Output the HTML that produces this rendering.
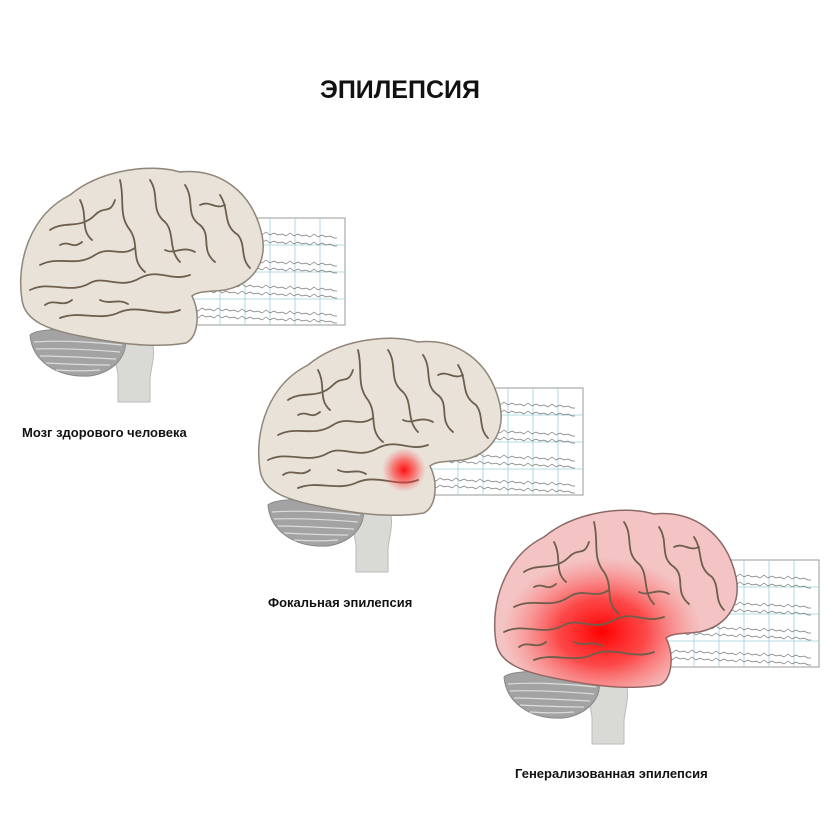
<!DOCTYPE html>
<html><head><meta charset="utf-8"><style>
html,body{margin:0;padding:0;background:#fff;}
svg{display:block}
text{font-family:"Liberation Sans",sans-serif;font-weight:bold;fill:#111}
</style></head><body>
<svg width="840" height="840" viewBox="0 0 840 840" xmlns="http://www.w3.org/2000/svg">
<defs>
<radialGradient id="focal" cx="0.5" cy="0.5" r="0.5">
<stop offset="0" stop-color="#ff1010" stop-opacity="1"/>
<stop offset="0.5" stop-color="#ff3030" stop-opacity="0.6"/>
<stop offset="1" stop-color="#ff5050" stop-opacity="0"/>
</radialGradient>
<radialGradient id="gen" cx="0.5" cy="0.5" r="0.5">
<stop offset="0" stop-color="#ff0000" stop-opacity="1"/>
<stop offset="0.45" stop-color="#ff2020" stop-opacity="0.75"/>
<stop offset="1" stop-color="#ff6060" stop-opacity="0"/>
</radialGradient>
<g id="eeg">
<rect x="190" y="218" width="155" height="107" fill="#fff" stroke="#999" stroke-width="1"/>
<g stroke="#9cd0dc" stroke-width="0.8">
<line x1="220" y1="218" x2="220" y2="325"/><line x1="245" y1="218" x2="245" y2="325"/>
<line x1="270" y1="218" x2="270" y2="325"/><line x1="295" y1="218" x2="295" y2="325"/>
<line x1="320" y1="218" x2="320" y2="325"/>
<line x1="190" y1="245" x2="345" y2="245"/><line x1="190" y1="272" x2="345" y2="272"/><line x1="190" y1="299" x2="345" y2="299"/>
</g>
<g stroke="#777" stroke-width="0.7" fill="none">
<path d="M190,232 l4,-2 l4,3 l4,-3 l4,2 l4,-1 l4,2 l4,-3 l4,3 l4,-2 l4,2 l4,-1 l4,2 l4,-3 l4,3 l4,-2 l4,2 l4,-1 l4,2 l4,-3 l4,3 l4,-2 l4,2 l4,-1 l4,2 l4,-3 l4,3 l4,-2 l4,2 l4,-1 l4,2 l4,-3 l4,3 l4,-2 l4,2 l4,-1 l4,2 l3,0"/>
<path d="M190,240 l4,-2 l4,3 l4,-3 l4,2 l4,-1 l4,2 l4,-3 l4,3 l4,-2 l4,2 l4,-1 l4,2 l4,-3 l4,3 l4,-2 l4,2 l4,-1 l4,2 l4,-3 l4,3 l4,-2 l4,2 l4,-1 l4,2 l4,-3 l4,3 l4,-2 l4,2 l4,-1 l4,2 l4,-3 l4,3 l4,-2 l4,2 l4,-1 l4,2 l3,0"/>
<path d="M190,260 l4,-2 l4,3 l4,-3 l4,2 l4,-1 l4,2 l4,-3 l4,3 l4,-2 l4,2 l4,-1 l4,2 l4,-3 l4,3 l4,-2 l4,2 l4,-1 l4,2 l4,-3 l4,3 l4,-2 l4,2 l4,-1 l4,2 l4,-3 l4,3 l4,-2 l4,2 l4,-1 l4,2 l4,-3 l4,3 l4,-2 l4,2 l4,-1 l4,2 l3,0"/>
<path d="M190,267 l4,-2 l4,3 l4,-3 l4,2 l4,-1 l4,2 l4,-3 l4,3 l4,-2 l4,2 l4,-1 l4,2 l4,-3 l4,3 l4,-2 l4,2 l4,-1 l4,2 l4,-3 l4,3 l4,-2 l4,2 l4,-1 l4,2 l4,-3 l4,3 l4,-2 l4,2 l4,-1 l4,2 l4,-3 l4,3 l4,-2 l4,2 l4,-1 l4,2 l3,0"/>
<path d="M190,285 l4,-2 l4,3 l4,-3 l4,2 l4,-1 l4,2 l4,-3 l4,3 l4,-2 l4,2 l4,-1 l4,2 l4,-3 l4,3 l4,-2 l4,2 l4,-1 l4,2 l4,-3 l4,3 l4,-2 l4,2 l4,-1 l4,2 l4,-3 l4,3 l4,-2 l4,2 l4,-1 l4,2 l4,-3 l4,3 l4,-2 l4,2 l4,-1 l4,2 l3,0"/>
<path d="M190,292 l4,-2 l4,3 l4,-3 l4,2 l4,-1 l4,2 l4,-3 l4,3 l4,-2 l4,2 l4,-1 l4,2 l4,-3 l4,3 l4,-2 l4,2 l4,-1 l4,2 l4,-3 l4,3 l4,-2 l4,2 l4,-1 l4,2 l4,-3 l4,3 l4,-2 l4,2 l4,-1 l4,2 l4,-3 l4,3 l4,-2 l4,2 l4,-1 l4,2 l3,0"/>
<path d="M190,310 l4,-2 l4,3 l4,-3 l4,2 l4,-1 l4,2 l4,-3 l4,3 l4,-2 l4,2 l4,-1 l4,2 l4,-3 l4,3 l4,-2 l4,2 l4,-1 l4,2 l4,-3 l4,3 l4,-2 l4,2 l4,-1 l4,2 l4,-3 l4,3 l4,-2 l4,2 l4,-1 l4,2 l4,-3 l4,3 l4,-2 l4,2 l4,-1 l4,2 l3,0"/>
<path d="M190,317 l4,-2 l4,3 l4,-3 l4,2 l4,-1 l4,2 l4,-3 l4,3 l4,-2 l4,2 l4,-1 l4,2 l4,-3 l4,3 l4,-2 l4,2 l4,-1 l4,2 l4,-3 l4,3 l4,-2 l4,2 l4,-1 l4,2 l4,-3 l4,3 l4,-2 l4,2 l4,-1 l4,2 l4,-3 l4,3 l4,-2 l4,2 l4,-1 l4,2 l3,0"/>
</g>
</g>
<g id="under">
<path d="M112,340 L150,338 C158,350 150,370 150,380 L150,402 L118,402 L118,375 Z" fill="#d9d9d6" stroke="#bbb" stroke-width="1"/>
<path d="M30,335 C40,325 110,330 125,338 C128,355 115,372 90,376 C55,378 32,360 30,335 Z" fill="#a3a3a3" stroke="#888" stroke-width="1"/>
<g stroke="#dcdcdc" stroke-width="1.2" fill="none">
<path d="M34,342 C60,340 95,342 122,345"/><path d="M36,349 C60,348 95,350 120,352"/>
<path d="M40,356 C62,356 95,358 116,359"/><path d="M46,363 C66,364 92,365 110,365"/>
<path d="M56,370 C70,371 88,371 100,370"/>
</g>
</g>
<path id="outline" d="M22,300 C16,262 30,215 70,195 C100,170 150,163 180,172 C218,168 252,190 262,235 C268,265 250,285 225,290 C208,292 198,291 192,296 C200,312 199,336 186,343 C150,349 110,342 80,336 C50,330 25,322 22,300 Z"/>
<g id="gyri" fill="none" stroke="#6e5e4c" stroke-width="1.8" stroke-linecap="round">
<path d="M50,230 C65,220 80,230 95,215 C105,205 110,215 115,200"/>
<path d="M40,265 C60,255 75,268 95,255 C110,245 120,258 135,248"/>
<path d="M30,290 C50,280 70,295 90,283 C105,275 120,290 140,278 C160,268 170,282 190,275"/>
<path d="M120,180 C125,200 118,215 130,230 C140,245 130,260 145,272"/>
<path d="M150,180 C160,195 150,210 165,222 C175,232 168,250 180,262"/>
<path d="M185,185 C195,200 185,215 200,225 C212,235 200,250 215,262"/>
<path d="M220,195 C230,210 222,225 238,235 C246,245 240,258 250,268"/>
<path d="M60,318 C80,310 100,322 120,312 C140,304 160,318 180,310"/>
<path d="M45,305 C55,298 62,308 72,300"/>
<path d="M80,200 C88,215 80,230 92,240"/>
<path d="M60,245 C70,240 72,250 82,242"/>
<path d="M165,250 C175,255 182,245 195,252"/>
<path d="M100,300 C110,305 118,298 128,304"/>
<path d="M200,205 C210,200 215,210 225,205"/>
</g>
<g id="brainN">
<use href="#eeg"/>
<use href="#under"/>
<use href="#outline" fill="#e9e2d9" stroke="#8f8579" stroke-width="1.5"/>
<use href="#gyri"/>
</g>
<clipPath id="clip3"><use href="#outline"/></clipPath>
</defs>

<text x="400" y="98" font-size="25" text-anchor="middle">ЭПИЛЕПСИЯ</text>

<use href="#brainN"/>
<text x="22" y="437" font-size="13">Мозг здорового человека</text>

<g transform="translate(238,170)">
<use href="#brainN"/>
<circle cx="166" cy="300" r="22" fill="url(#focal)"/>
</g>
<text x="268" y="607" font-size="13">Фокальная эпилепсия</text>

<g transform="translate(474,342)">
<use href="#eeg"/>
<use href="#under"/>
<use href="#outline" fill="#f4c4c4" stroke="#8a6a66" stroke-width="1.5"/>
<g clip-path="url(#clip3)">
<ellipse cx="128" cy="290" rx="100" ry="75" fill="url(#gen)"/>
</g>
<use href="#gyri"/>
</g>
<text x="515" y="778" font-size="13">Генерализованная эпилепсия</text>
</svg>
</body></html>
